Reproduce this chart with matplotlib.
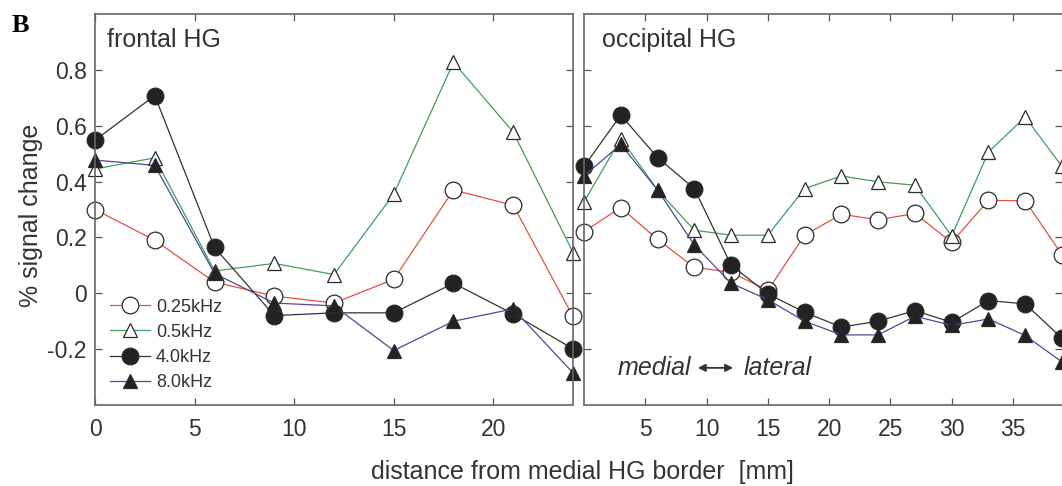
import matplotlib
matplotlib.use("Agg")
import matplotlib.pyplot as plt

plt.rcParams['font.family'] = ['Liberation Sans', 'DejaVu Sans']

# distance from medial HG border [mm]
x_front = [0, 3, 6, 9, 12, 15, 18, 21, 24]
x_occ = [0, 3, 6, 9, 12, 15, 18, 21, 24, 27, 30, 33, 36, 39]

# % signal change, frontal HG
f_025 = [0.30, 0.19, 0.04, -0.01, -0.035, 0.05, 0.37, 0.315, -0.083]
f_05 = [0.445, 0.485, 0.08, 0.107, 0.067, 0.355, 0.827, 0.577, 0.146]
f_40 = [0.548, 0.708, 0.164, -0.08, -0.07, -0.07, 0.036, -0.074, -0.199]
f_80 = [0.477, 0.458, 0.071, -0.035, -0.045, -0.205, -0.10, -0.056, -0.285]

# % signal change, occipital HG
o_025 = [0.221, 0.307, 0.193, 0.093, 0.075, 0.01, 0.208, 0.283, 0.263, 0.286, 0.182, 0.333, 0.331, 0.138]
o_05 = [0.327, 0.554, 0.37, 0.226, 0.208, 0.208, 0.375, 0.42, 0.399, 0.387, 0.205, 0.506, 0.631, 0.454]
o_40 = [0.454, 0.638, 0.486, 0.375, 0.101, -0.002, -0.068, -0.121, -0.10, -0.062, -0.104, -0.026, -0.038, -0.161]
o_80 = [0.42, 0.533, 0.37, 0.173, 0.036, -0.023, -0.10, -0.149, -0.149, -0.082, -0.115, -0.092, -0.151, -0.246]

labels = ['0.25kHz', '0.5kHz', '4.0kHz', '8.0kHz']

# line colour, marker, marker face, marker size
styles = [
    ('#e3503f', 'o', 'white', 12),
    ('#3f9f5a', '^', 'white', 10.5),
    ('#333333', 'o', '#222222', 12),
    ('#4a4a9a', '^', '#222222', 10.5),
]

fig = plt.figure(figsize=(10.62, 4.86), dpi=100)
ax1 = fig.add_axes([95 / 1062, 81 / 486, 478 / 1062, 391 / 486])
ax2 = fig.add_axes([584 / 1062, 81 / 486, 478 / 1062, 391 / 486])

def draw(ax, x, series):
    for (c, m, fc, ms), y, lab in zip(styles, series, labels):
        ax.plot(x, y, color=c, lw=0.9, marker=m, ms=ms, mfc=fc,
                mec='#2a2a2a', mew=0.9, label=lab, clip_on=False)
    ax.set_ylim(-0.4, 1.0)
    ax.set_yticks([-0.2, 0, 0.2, 0.4, 0.6, 0.8])
    ax.tick_params(direction='in', top=True, right=True, length=5,
                   width=0.9, color='#555555', labelsize=16.5,
                   labelcolor='#333333')
    ax.tick_params(axis='x', pad=9)
    ax.tick_params(axis='y', pad=6)
    for s in ax.spines.values():
        s.set_color('#666666')
        s.set_linewidth(1.2)

draw(ax1, x_front, [f_025, f_05, f_40, f_80])
draw(ax2, x_occ, [o_025, o_05, o_40, o_80])

ax1.set_xlim(0, 24)
ax1.set_xticks([0, 5, 10, 15, 20])
ax1.set_yticklabels(['-0.2', '0', '0.2', '0.4', '0.6', '0.8'])
ax2.set_xlim(0, 39)
ax2.set_xticks([5, 10, 15, 20, 25, 30, 35])
ax2.set_yticklabels([])
ax2.spines['right'].set_visible(False)

ax1.text(0.025, 0.933, 'frontal HG', transform=ax1.transAxes, fontsize=18,
         color='#333333', va='center')
ax2.text(0.037, 0.933, 'occipital HG', transform=ax2.transAxes, fontsize=18,
         color='#333333', va='center')

ax2.text(0.071, 0.095, 'medial', transform=ax2.transAxes, fontsize=18,
         style='italic', color='#333333', va='center')
ax2.text(0.333, 0.095, 'lateral', transform=ax2.transAxes, fontsize=18,
         style='italic', color='#333333', va='center')
ax2.annotate('', xy=(0.312, 0.095), xytext=(0.238, 0.095), xycoords='axes fraction',
             arrowprops=dict(arrowstyle='<|-|>', color='#333333', lw=1.3,
                             mutation_scale=11, shrinkA=0, shrinkB=0))

leg = ax1.legend(loc='lower left', bbox_to_anchor=(15 / 478, 14 / 391), frameon=False,
                 fontsize=13, handlelength=2.2, handletextpad=0.35,
                 labelspacing=0.45, borderaxespad=0, borderpad=0)
for t in leg.get_texts():
    t.set_color('#333333')

fig.text(31 / 1062, 1 - 215 / 486, '% signal change', rotation=90, fontsize=18,
         color='#333333', ha='center', va='center')
fig.text(582 / 1062, 1 - 472 / 486, 'distance from medial HG border  [mm]',
         fontsize=18, color='#333333', ha='center', va='center')
fig.text(12 / 1062, 1 - 26 / 486, 'B', fontsize=19, fontweight='bold',
         family='Liberation Serif', va='center')

fig.savefig('out.png', dpi=100)
